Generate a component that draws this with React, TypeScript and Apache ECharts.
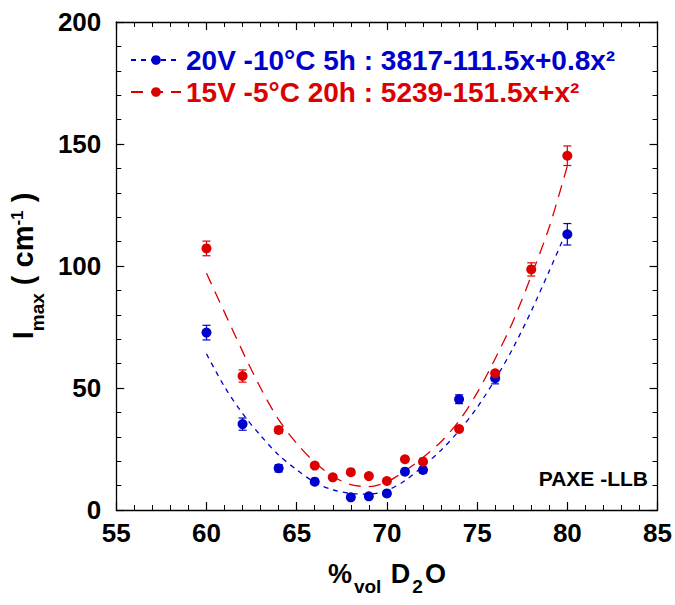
import React, { useEffect, useRef } from "react";
import * as echarts from "echarts";

const FONT = "'Liberation Sans', Arial, Helvetica, sans-serif";
const BLUE = "#0000cc";
const RED = "#dd0000";

const blueName = "20V -10°C 5h : 3817-111.5x+0.8x²";
const redName = "15V -5°C 20h : 5239-151.5x+x²";

// measured points
const blueX = [60, 62, 64, 66, 68, 69, 70, 71, 72, 74, 76, 80];
const blueY = [72.7, 35.2, 17.1, 11.6, 5.2, 5.6, 6.8, 15.7, 16.4, 45.4, 54.0, 113.0];
const blueErr = [3, 2.5, 1.5, 1, 1, 1, 1, 1, 1.2, 1.8, 2.3, 4.4];

const redX = [60, 62, 64, 66, 67, 68, 69, 70, 71, 72, 74, 76, 78, 80];
const redY = [107.2, 54.9, 32.8, 18.2, 13.4, 15.5, 13.9, 11.9, 20.8, 19.8, 33.2, 56.0, 98.6, 145.2];
const redErr = [3, 2.5, 1.4, 1, 1, 1, 1, 1, 1, 1, 1, 1, 2.7, 4];

// fitted curves
const fitX = [60, 61, 62, 63, 64, 65, 66, 67, 68, 69, 70, 71, 72, 73, 74, 75, 76, 77, 78, 79, 80];
const blueFit = [64, 50.5, 39.5, 30.5, 22.5, 16.5, 11.3, 8.3, 6.8, 6.5, 8, 12, 18, 24.5, 32.5, 42, 53.5, 66.5, 81.5, 98, 115];
const redFit = [97, 81, 65, 50, 37, 27.3, 19.5, 13.8, 10.4, 9.6, 11.5, 16, 21.5, 28, 36.5, 48, 62, 77.5, 96, 116, 141];

const xMin = 55, xMax = 85, xStep = 5;
const yMin = 0, yMax = 200, yStep = 50;

function errSeries(xs: number[], ys: number[], es: number[], color: string) {
  return {
    type: "custom",
    xAxisIndex: 0,
    yAxisIndex: 0,
    z: 2,
    silent: true,
    data: xs.map((x, i) => [x, ys[i], es[i]]),
    encode: { x: 0, y: 1 },
    renderItem: (params: any, api: any) => {
      const x = api.value(0), y = api.value(1), e = api.value(2);
      const t = api.coord([x, y + e]);
      const b = api.coord([x, y - e]);
      const hw = 4;
      const st = { stroke: color, lineWidth: 1.2 };
      return {
        type: "group",
        children: [
          { type: "line", shape: { x1: t[0], y1: t[1], x2: b[0], y2: b[1] }, style: st },
          { type: "line", shape: { x1: t[0] - hw, y1: t[1], x2: t[0] + hw, y2: t[1] }, style: st },
          { type: "line", shape: { x1: b[0] - hw, y1: b[1], x2: b[0] + hw, y2: b[1] }, style: st },
        ],
      };
    },
  };
}

export default function App() {
  const ref = useRef<HTMLDivElement>(null);
  useEffect(() => {
    if (!ref.current) return;
    const chart = echarts.init(ref.current, undefined, { renderer: "svg" });
    const axisLine = { show: true, onZero: false, lineStyle: { color: "#000", width: 1.3 } };
    const tick = { show: true, inside: true, length: 8, lineStyle: { color: "#000", width: 1.2 } };
    const minor = { show: true, splitNumber: 5, length: 5, lineStyle: { color: "#000", width: 1 } };
    const lbl = { fontSize: 26, fontWeight: "bold", color: "#000", fontFamily: FONT };
    chart.setOption({
      animation: false,
      backgroundColor: "#fff",
      grid: { left: 110, right: 16, top: 22, bottom: 95, containLabel: false },
      legend: {
        orient: "vertical",
        left: 130,
        top: 46,
        padding: 0,
        itemWidth: 50,
        itemHeight: 12,
        itemGap: 4,
        selectedMode: false,
        textStyle: { fontSize: 28, fontWeight: "bold", fontFamily: FONT, lineHeight: 28 },
        data: [
          { name: blueName, textStyle: { color: BLUE } },
          { name: redName, textStyle: { color: RED } },
        ],
      },
      xAxis: [
        {
          type: "value",
          min: xMin,
          max: xMax,
          interval: xStep,
          position: "bottom",
          axisLine,
          axisTick: tick,
          minorTick: minor,
          splitLine: { show: false },
          axisLabel: { ...lbl, margin: 10 },
          name: "{a|%}{s|vol}{a| D}{s|2}{a|O}",
          nameLocation: "middle",
          nameGap: 59,
          nameTextStyle: {
            fontFamily: FONT,
            fontWeight: "bold",
            color: "#000",
            rich: {
              a: { fontSize: 27, fontWeight: "bold", fontFamily: FONT, lineHeight: 27, padding: [0, 0, 9, 0], verticalAlign: "bottom", color: "#000" },
              s: { fontSize: 19, fontWeight: "bold", fontFamily: FONT, lineHeight: 19, verticalAlign: "bottom", color: "#000", padding: [0, 2, 0, 2] },
            },
          },
        },
        {
          type: "value",
          min: xMin,
          max: xMax,
          interval: xStep,
          position: "top",
          axisLine,
          axisTick: tick,
          minorTick: minor,
          splitLine: { show: false },
          axisLabel: { show: false },
        },
      ],
      yAxis: [
        {
          type: "value",
          min: yMin,
          max: yMax,
          interval: yStep,
          position: "left",
          axisLine,
          axisTick: tick,
          minorTick: minor,
          splitLine: { show: false },
          axisLabel: { ...lbl, margin: 15 },
          name: "{a|I}{s|max}{a| ( cm}{p|-1}{a| )}",
          nameLocation: "middle",
          nameRotate: 90,
          nameGap: 50,
          nameTextStyle: {
            fontFamily: FONT,
            fontWeight: "bold",
            color: "#000",
            rich: {
              a: { fontSize: 29, fontWeight: "bold", fontFamily: FONT, lineHeight: 29, padding: [0, 0, 10, 0], verticalAlign: "bottom", color: "#000" },
              s: { fontSize: 19, fontWeight: "bold", fontFamily: FONT, lineHeight: 19, verticalAlign: "bottom", color: "#000" },
              p: { fontSize: 17, fontWeight: "bold", fontFamily: FONT, lineHeight: 17, verticalAlign: "bottom", color: "#000", padding: [0, 0, 21, 0] },
            },
          },
        },
        {
          type: "value",
          min: yMin,
          max: yMax,
          interval: yStep,
          position: "right",
          axisLine,
          axisTick: tick,
          minorTick: minor,
          splitLine: { show: false },
          axisLabel: { show: false },
        },
      ],
      graphic: [
        {
          type: "text",
          right: 27,
          top: 468,
          style: { text: "PAXE -LLB", font: `bold 21px ${FONT}`, fill: "#000" },
        },
      ],
      series: [
        {
          name: blueName,
          type: "line",
          data: fitX.map((x, i) => [x, blueFit[i]]),
          smooth: 0.3,
          symbol: "circle",
          symbolSize: 10,
          showSymbol: false,
          itemStyle: { color: BLUE },
          lineStyle: { color: BLUE, width: 1.3, type: [5, 5] },
          z: 1,
          silent: true,
        },
        {
          name: redName,
          type: "line",
          data: fitX.map((x, i) => [x, redFit[i]]),
          smooth: 0.3,
          symbol: "circle",
          symbolSize: 10,
          showSymbol: false,
          itemStyle: { color: RED },
          lineStyle: { color: RED, width: 1.3, type: [12, 8] },
          z: 1,
          silent: true,
        },
        errSeries(blueX, blueY, blueErr, BLUE),
        errSeries(redX, redY, redErr, RED),
        {
          name: "blue points",
          type: "scatter",
          data: blueX.map((x, i) => [x, blueY[i]]),
          symbol: "circle",
          symbolSize: 10,
          itemStyle: { color: BLUE, opacity: 1 },
          z: 3,
        },
        {
          name: "red points",
          type: "scatter",
          data: redX.map((x, i) => [x, redY[i]]),
          symbol: "circle",
          symbolSize: 10,
          itemStyle: { color: RED, opacity: 1 },
          z: 3,
        },
      ],
    });
    return () => chart.dispose();
  }, []);
  return (
    <div
      ref={ref}
      style={{ position: "fixed", left: 0, top: 0, width: 675, height: 605, background: "#fff" }}
    />
  );
}
